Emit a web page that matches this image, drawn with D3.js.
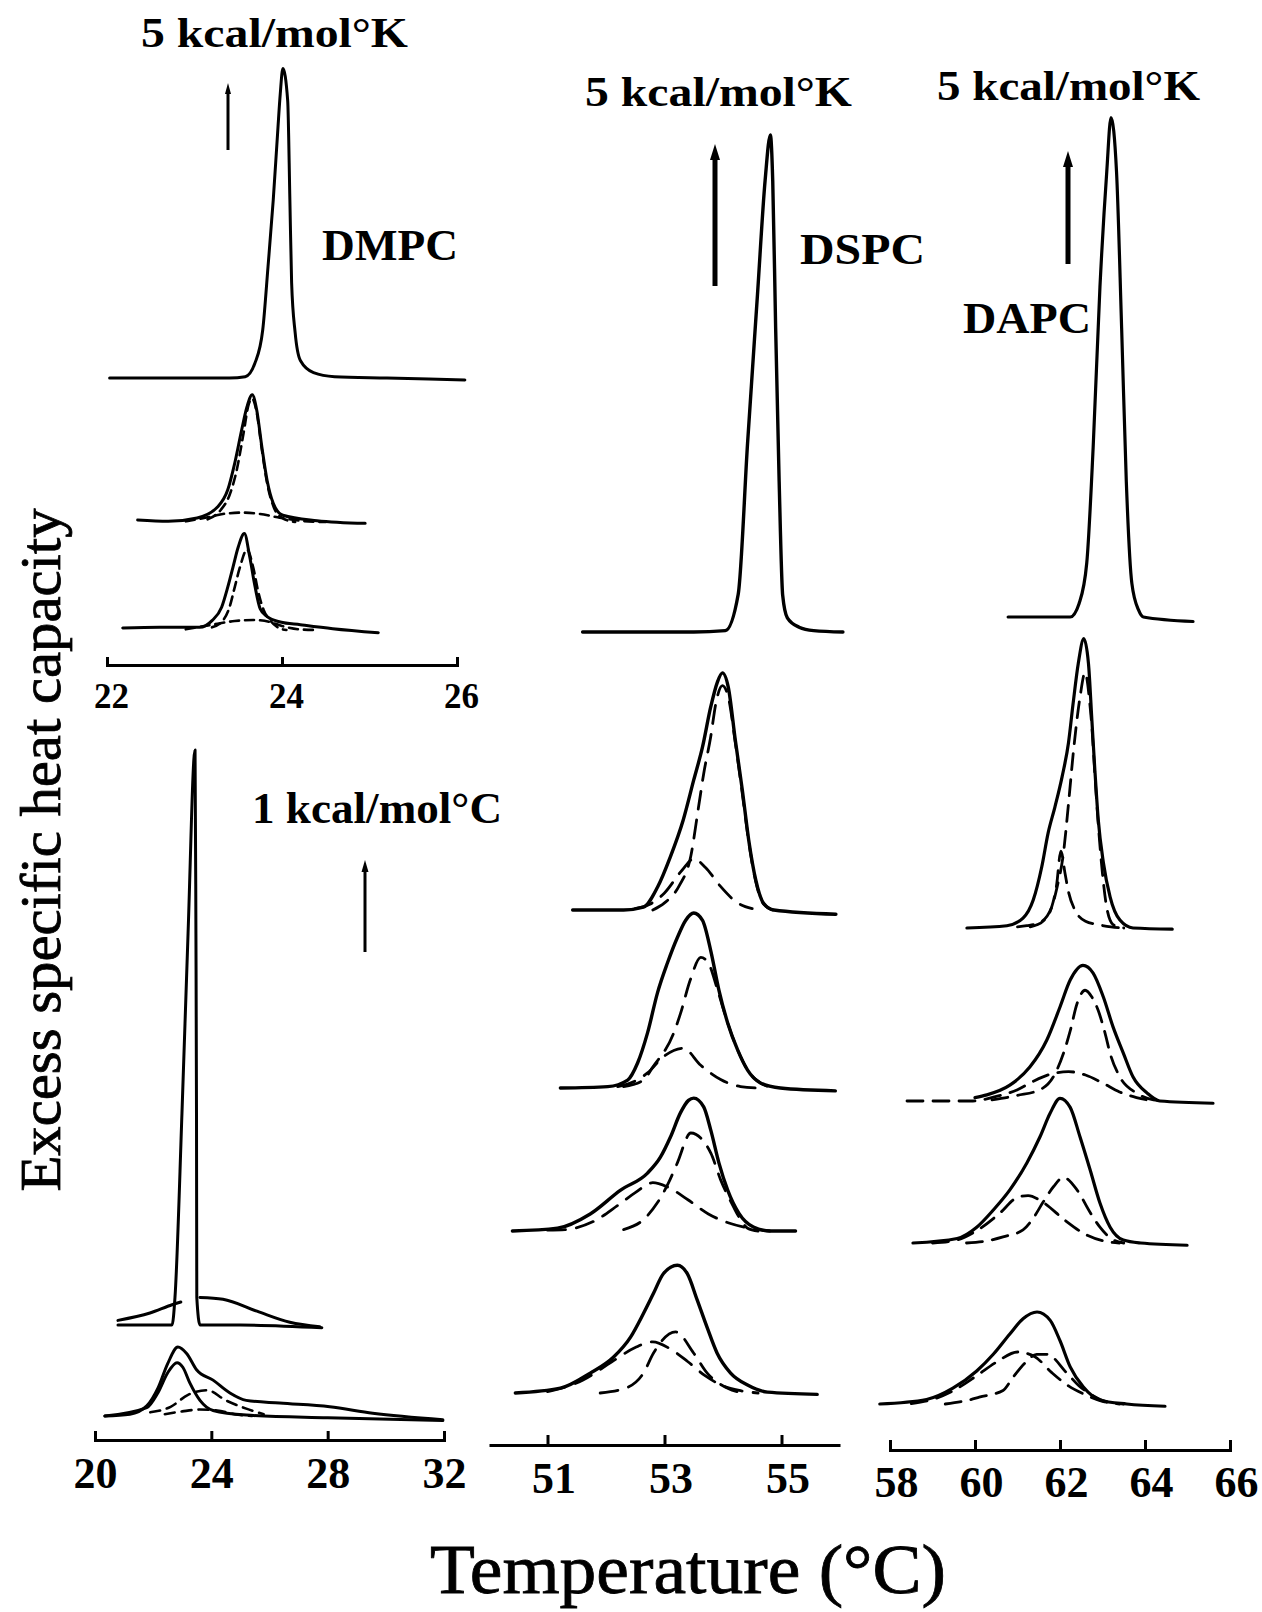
<!DOCTYPE html>
<html>
<head>
<meta charset="utf-8">
<script src="https://cdn.jsdelivr.net/npm/d3@7"></script>
<style>
  html, body { margin: 0; padding: 0; background: #fff; }
  svg { display: block; }
  text { font-family: "Liberation Serif", "Times New Roman", Times, serif; fill: #000; }
</style>
</head>
<body>
<svg id="chart" width="1262" height="1612"></svg>
<script>
// ---- tick labels ----
const dmpcTicks = [22, 24, 26];
const wideTicks = [20, 24, 28, 32];
const dspcTicks = [51, 53, 55];
const dapcTicks = [58, 60, 62, 64, 66];

// ---- scale bars (value of each arrow) ----
const scaleBarValues = { dmpc: 5, wide: 1, dspc: 5, dapc: 5 };

// ---- DMPC, 22-26 °C, [T, Cp kcal/mol°K] ----
const dmpcPure = [[22.03,0],[23.4,0],[23.58,0.1],[23.69,1.1],[23.78,3.6],[23.84,8.3],[23.9,13.3],[23.95,18.3],[23.98,21.2],[24.01,23.1],[24.065,20.7],[24.09,13.3],[24.11,7.1],[24.15,3.4],[24.21,1.3],[24.36,0.4],[24.6,0.1],[25.2,0],[26.09,-0.15]];
const dmpcMid = [[22.35,0.15],[22.7,0.05],[23.03,0.3],[23.26,1.1],[23.38,2.4],[23.46,4.4],[23.54,6.9],[23.6,8.6],[23.66,9.5],[23.71,8.4],[23.77,5.6],[23.83,3.1],[23.9,1.4],[24.01,0.5],[24.4,0.1],[24.95,-0.1]];
const dmpcMidFitA = [[23.15,0.2],[23.3,0.9],[23.4,2.0],[23.48,3.8],[23.56,6.6],[23.62,8.8],[23.66,9.2],[23.71,8.2],[23.77,5.4],[23.83,2.9],[23.9,1.2],[24.0,0.3],[24.15,0]];
const dmpcMidFitB = [[22.9,0.05],[23.15,0.35],[23.35,0.62],[23.55,0.7],[23.75,0.6],[23.95,0.35],[24.2,0.1],[24.5,0]];
const dmpcLow = [[22.18,0.15],[22.6,0.2],[23.06,0.2],[23.2,0.7],[23.31,1.7],[23.38,3.2],[23.44,4.7],[23.5,6.2],[23.57,7.2],[23.63,5.5],[23.69,3.3],[23.75,1.6],[23.83,1.0],[23.98,0.6],[24.21,0.4],[24.58,0.1],[25.1,-0.2]];
const dmpcLowFitA = [[23.2,0.2],[23.33,0.75],[23.4,1.7],[23.46,3.2],[23.52,4.7],[23.6,6.0],[23.67,4.7],[23.73,2.8],[23.79,1.5],[23.86,0.75],[23.95,0.2],[24.05,0]];
const dmpcLowFitB = [[22.9,0.05],[23.18,0.37],[23.46,0.67],[23.67,0.75],[23.86,0.6],[24.0,0.3],[24.2,0.05],[24.4,0]];

// ---- wide range 20-32 °C, [T, Cp kcal/mol°C] ----
const wideSharp = [[20.79,0],[22.2,0],[22.65,0],[22.75,0.3],[22.99,2.3],[23.2,4.26],[23.44,6.25],[23.47,4.26],[23.49,2.3],[23.5,0.3],[23.61,0],[25.0,0],[27.8,-0.03]];
const wideBroad = [[20.79,0.05],[21.89,0.13],[22.65,0.22],[22.95,0.25],null,[23.61,0.3],[24.4,0.28],[25.57,0.15],[26.7,0.03],[27.73,-0.02]];
const wideLowOuter = [[20.34,0],[21.2,0.02],[21.78,0.11],[22.16,0.3],[22.5,0.57],[22.85,0.75],[23.15,0.68],[23.5,0.5],[24.06,0.39],[24.64,0.25],[25.2,0.17],[26.35,0.14],[28.07,0.1],[29.55,0.03],[31.96,-0.04]];
const wideLowInner = [[20.34,0],[21.78,0.09],[22.16,0.25],[22.5,0.47],[22.82,0.58],[23.02,0.53],[23.26,0.36],[23.61,0.17],[24.06,0.06],[25.2,0.01],[28.0,-0.02],[31.96,-0.05]];
const wideLowFitA = [[21.9,0.04],[22.6,0.1],[23.2,0.23],[23.85,0.28],[24.5,0.17],[25.2,0.08],[25.8,0.02]];
const wideLowFitB = [[22.4,0.02],[23.0,0.05],[23.6,0.07],[24.2,0.06],[24.8,0.02],[25.4,0]];

// ---- DSPC, 50-56 °C, [T, Cp kcal/mol°K] ----
const dspcPure = [[51.6,0],[53.5,0],[54.04,0.05],[54.26,1.33],[54.42,6.65],[54.59,11.9],[54.72,15.9],[54.81,17.5],[54.85,15.9],[54.9,10.7],[54.96,5.3],[55.02,1.3],[55.1,0.5],[55.3,0.17],[55.55,0.05],[56.05,0]];
const dspcA = [[51.43,0],[52.3,0],[52.64,0.1],[52.88,0.8],[53.1,1.87],[53.32,3.17],[53.5,4.58],[53.65,5.74],[53.79,7.15],[53.9,8.0],[53.99,8.35],[54.09,7.85],[54.21,5.99],[54.33,4.23],[54.44,2.46],[54.56,1.06],[54.69,0.25],[54.87,0],[55.93,-0.15]];
const dspcAFitA = [[52.8,0],[53.0,0.25],[53.25,0.85],[53.45,1.9],[53.58,3.6],[53.67,4.8],[53.79,6.1],[53.88,7.3],[53.99,7.9],[54.09,7.5],[54.21,5.9],[54.33,4.1],[54.44,2.4],[54.56,1.0],[54.68,0.25],[54.85,0]];
const dspcAFitB = [[52.5,0.05],[52.75,0.2],[53.0,0.6],[53.3,1.4],[53.5,1.8],[53.7,1.5],[53.95,0.85],[54.25,0.25],[54.5,0.05]];
const dspcB = [[51.22,0],[52.03,0.05],[52.37,0.28],[52.54,0.88],[52.71,1.94],[52.88,3.35],[53.05,4.4],[53.22,5.3],[53.36,5.9],[53.5,6.16],[53.65,5.9],[53.79,4.84],[53.93,3.45],[54.08,2.29],[54.25,1.34],[54.42,0.63],[54.64,0.18],[54.98,0],[55.92,-0.1]];
const dspcBFitA = [[52.3,0.05],[52.64,0.28],[52.8,0.74],[53.15,1.9],[53.27,2.6],[53.44,3.8],[53.62,4.6],[53.75,4.4],[53.9,3.5],[54.08,2.29],[54.25,1.34],[54.42,0.63],[54.64,0.18],[54.9,0]];
const dspcBFitB = [[52.2,0.05],[52.5,0.25],[52.71,0.53],[52.98,1.1],[53.32,1.4],[53.62,0.8],[53.96,0.3],[54.3,0.05],[54.6,0]];
const dspcC = [[50.4,0],[51.17,0.1],[51.73,0.6],[52.25,1.44],[52.71,2.04],[52.93,2.6],[53.1,3.3],[53.27,4.15],[53.41,4.6],[53.5,4.68],[53.67,4.37],[53.79,3.56],[53.93,2.4],[54.08,1.44],[54.27,0.63],[54.52,0.14],[54.81,0],[55.24,0]];
const dspcCFitA = [[52.3,0.05],[52.64,0.4],[52.88,1.0],[53.07,1.7],[53.22,2.4],[53.45,3.45],[53.79,2.75],[53.96,1.8],[54.18,0.85],[54.3,0.4],[54.42,0.1],[54.6,0]];
const dspcCFitB = [[51.0,0.03],[51.3,0.05],[51.8,0.35],[52.2,0.9],[52.5,1.35],[52.8,1.7],[53.05,1.55],[53.4,1.1],[53.75,0.6],[54.1,0.28],[54.45,0.1],[54.8,0]];
const dspcD = [[50.45,0],[51.22,0.17],[51.73,0.7],[52.13,1.27],[52.42,1.97],[52.64,2.8],[52.81,3.5],[52.98,4.2],[53.22,4.5],[53.39,4.2],[53.56,3.27],[53.73,2.3],[53.9,1.4],[54.13,0.7],[54.42,0.28],[54.76,0.03],[55.61,-0.05]];
const dspcDFitA = [[51.9,0],[52.37,0.2],[52.64,0.7],[52.81,1.4],[53.19,2.15],[53.5,1.4],[53.73,0.7],[54.08,0.17],[54.35,0]];
const dspcDFitB = [[51.0,0.05],[51.6,0.45],[52.1,1.1],[52.5,1.6],[52.8,1.8],[53.1,1.55],[53.4,1.1],[53.7,0.6],[54.0,0.25],[54.3,0.08],[54.6,0]];

// ---- DAPC, 58-66 °C, [T, Cp kcal/mol°K] ----
const dapcPure = [[60.78,0],[61.8,0],[62.24,0],[62.45,0.6],[62.63,2.4],[62.78,7.5],[62.94,14.6],[63.1,19.7],[63.2,22.1],[63.33,19.7],[63.45,12.8],[63.56,6.0],[63.69,1.5],[63.85,0.3],[63.96,0],[65.13,-0.2]];
const dapcA = [[59.81,0],[60.75,0.1],[61.13,0.44],[61.37,1.24],[61.57,2.7],[61.72,4.2],[61.88,5.35],[62.05,6.7],[62.2,8.2],[62.31,9.96],[62.43,11.7],[62.56,12.8],[62.67,11.7],[62.75,9.2],[62.82,7.0],[62.9,4.8],[63.02,2.9],[63.18,1.37],[63.41,0.35],[63.72,0],[64.64,-0.05]];
const dapcAFitA = [[61.0,0.05],[61.22,0.1],[61.53,0.25],[61.8,0.9],[61.93,1.8],[62.08,3.3],[62.2,5.5],[62.31,7.7],[62.47,10.2],[62.59,11.3],[62.7,9.96],[62.75,8.9],[62.82,6.8],[62.9,4.6],[63.0,2.4],[63.1,0.9],[63.25,0.15],[63.5,0]];
const dapcAFitB = [[61.3,0.05],[61.6,0.3],[61.8,0.9],[61.92,1.9],[62.02,3.4],[62.12,2.4],[62.2,1.6],[62.35,0.8],[62.6,0.3],[62.9,0.15],[63.2,0.05],[63.5,0]];
const dapcB = [[60.0,0.15],[60.28,0.27],[60.82,0.7],[61.29,1.5],[61.69,2.7],[62.0,4.16],[62.24,5.35],[62.54,6.0],[62.78,5.66],[63.02,4.6],[63.25,3.27],[63.49,2.12],[63.72,1.06],[64.05,0.35],[64.35,0],[65.6,-0.1]];
const dapcBFitA = [[60.4,0.05],[61.0,0.25],[61.53,0.5],[61.84,1.06],[62.08,2.1],[62.24,3.1],[62.4,4.3],[62.59,4.9],[62.75,4.6],[62.9,4.0],[63.06,3.0],[63.18,2.1],[63.41,1.06],[63.8,0.35],[64.2,0.05],[64.5,0]];
const dapcBFitB = [[58.4,0],[59.9,0],[60.5,0.2],[61.0,0.5],[61.4,0.9],[61.8,1.2],[62.2,1.3],[62.6,1.15],[63.0,0.8],[63.4,0.4],[63.8,0.15],[64.2,0]];
const dapcC = [[58.54,0],[59.58,0.2],[60.04,0.7],[60.43,1.46],[60.82,2.35],[61.22,3.54],[61.53,4.7],[61.77,5.75],[62.0,6.4],[62.24,6.0],[62.47,4.7],[62.71,3.23],[62.94,1.77],[63.18,0.7],[63.49,0.13],[63.9,0],[64.99,-0.1]];
const dapcCFitA = [[59.8,0],[60.3,0.1],[60.66,0.27],[61.13,0.58],[61.37,1.1],[61.6,1.8],[61.85,2.5],[62.08,2.9],[62.4,2.35],[62.71,1.35],[62.94,0.7],[63.2,0.2],[63.5,0]];
const dapcCFitB = [[59.0,0],[59.6,0.15],[60.0,0.5],[60.59,1.33],[60.98,2.0],[61.25,2.1],[61.6,1.8],[62.12,1.0],[62.63,0.35],[63.0,0.1],[63.4,0]];
const dapcD = [[57.76,0],[58.86,0.2],[59.48,0.7],[60.04,1.46],[60.43,2.2],[60.82,3.1],[61.13,3.77],[61.46,4.07],[61.77,3.7],[62.0,2.8],[62.24,1.64],[62.55,0.75],[62.94,0.18],[63.57,0],[64.47,-0.1]];
const dapcDFitA = [[58.5,0.02],[59.0,0.2],[59.5,0.6],[60.0,1.2],[60.5,1.85],[61.0,2.3],[61.4,2.1],[61.8,1.4],[62.2,0.8],[62.55,0.45],[63.0,0.12],[63.4,0]];
const dapcDFitB = [[59.3,0],[59.8,0.15],[60.1,0.3],[60.66,0.6],[60.9,1.2],[61.2,1.86],[61.45,2.2],[61.69,2.2],[62.16,1.37],[62.45,0.8],[62.75,0.4],[63.1,0.1],[63.5,0]];

// ---- layout ----
const panels = [
  {
    key: "dmpc", domain: [22, 26], range: [107, 457], axisY: 665, ticks: dmpcTicks,
    outerTicks: true, tickLen: 8, labelSize: 35, labelBase: 708, labelDx: 4,
    pxPerUnit: 13.4, dash: "9,6", solidW: 3, dashW: 2.6,
    arrow: { x: 228, base: 150, width: 3, head: [6, 11] },
    unitLabel: { text: "5 kcal/mol\u00B0K", x: 141, y: 47, size: 43, len: 267 },
    name: { text: "DMPC", x: 322, y: 260, size: 45, len: 136 },
    traces: [
      { base: 378, solid: [dmpcPure], dashed: [] },
      { base: 522, solid: [dmpcMid], dashed: [dmpcMidFitA, dmpcMidFitB] },
      { base: 630, solid: [dmpcLow], dashed: [dmpcLowFitA, dmpcLowFitB] }
    ]
  },
  {
    key: "wide", domain: [20, 32], range: [95, 444], axisY: 1440, ticks: wideTicks,
    outerTicks: true, tickLen: 9, labelSize: 44, labelBase: 1488, labelDx: 0,
    pxPerUnit: 92, dash: "10,7", solidW: 3, dashW: 2.6,
    arrow: { x: 365, base: 952, width: 3, head: [7, 12] },
    unitLabel: { text: "1 kcal/mol\u00B0C", x: 252, y: 823, size: 44, len: 250 },
    name: null,
    traces: [
      { base: 1325, solid: [wideSharp, wideBroad], dashed: [] },
      { base: 1416, solid: [wideLowOuter, wideLowInner], dashed: [wideLowFitA, wideLowFitB] }
    ]
  },
  {
    key: "dspc", domain: [50, 56], range: [489, 840], axisY: 1445, ticks: dspcTicks,
    outerTicks: false, tickLen: 10, labelSize: 44, labelBase: 1493, labelDx: 6,
    pxPerUnit: 28.4, dash: "18,11", solidW: 3.4, dashW: 2.8,
    arrow: { x: 715, base: 286, width: 5, head: [10, 16] },
    unitLabel: { text: "5 kcal/mol\u00B0K", x: 585, y: 106, size: 43, len: 267 },
    name: { text: "DSPC", x: 800, y: 264, size: 45, len: 125 },
    traces: [
      { base: 632, solid: [dspcPure], dashed: [] },
      { base: 910, solid: [dspcA], dashed: [dspcAFitA, dspcAFitB] },
      { base: 1088, solid: [dspcB], dashed: [dspcBFitA, dspcBFitB] },
      { base: 1231, solid: [dspcC], dashed: [dspcCFitA, dspcCFitB] },
      { base: 1393, solid: [dspcD], dashed: [dspcDFitA, dspcDFitB] }
    ]
  },
  {
    key: "dapc", domain: [58, 66], range: [890, 1230], axisY: 1450, ticks: dapcTicks,
    outerTicks: true, tickLen: 10, labelSize: 44, labelBase: 1497, labelDx: 6,
    pxPerUnit: 22.6, dash: "16,10", solidW: 3.2, dashW: 2.8,
    arrow: { x: 1068, base: 264, width: 5, head: [10, 16] },
    unitLabel: { text: "5 kcal/mol\u00B0K", x: 937, y: 100, size: 43, len: 263 },
    name: { text: "DAPC", x: 963, y: 333, size: 45, len: 128 },
    traces: [
      { base: 617, solid: [dapcPure], dashed: [] },
      { base: 928, solid: [dapcA], dashed: [dapcAFitA, dapcAFitB] },
      { base: 1101, solid: [dapcB], dashed: [dapcBFitA, dapcBFitB] },
      { base: 1243, solid: [dapcC], dashed: [dapcCFitA, dapcCFitB] },
      { base: 1404, solid: [dapcD], dashed: [dapcDFitA, dapcDFitB] }
    ]
  }
];

const svg = d3.select("#chart");
svg.append("rect").attr("width", 1262).attr("height", 1612).attr("fill", "#fff");

panels.forEach(p => {
  const g = svg.append("g").attr("class", "panel-" + p.key);
  const x = d3.scaleLinear().domain(p.domain).range(p.range);

  // stacked thermograms, each on its own baseline
  p.traces.forEach(tr => {
    const y = d3.scaleLinear().domain([0, 1]).range([tr.base, tr.base - p.pxPerUnit]);
    const line = d3.line()
      .defined(d => d !== null)
      .x(d => x(d[0]))
      .y(d => y(d[1]))
      .curve(d3.curveMonotoneX);

    tr.dashed.forEach(data => {
      g.append("path")
        .attr("d", line(data))
        .attr("fill", "none")
        .attr("stroke", "#000")
        .attr("stroke-width", p.dashW)
        .attr("stroke-dasharray", p.dash)
        .attr("stroke-linecap", "round");
    });
    tr.solid.forEach(data => {
      g.append("path")
        .attr("d", line(data))
        .attr("fill", "none")
        .attr("stroke", "#000")
        .attr("stroke-width", p.solidW)
        .attr("stroke-linejoin", "round")
        .attr("stroke-linecap", "round");
    });
  });

  // temperature axis with upward ticks
  const axis = d3.axisBottom(x)
    .tickValues(p.ticks)
    .tickFormat(d3.format("d"))
    .tickSize(-p.tickLen)
    .tickSizeOuter(p.outerTicks ? -p.tickLen : 0);
  const ag = g.append("g")
    .attr("transform", `translate(0,${p.axisY})`)
    .call(axis);
  ag.select("path.domain").attr("stroke", "#000").attr("stroke-width", 3).attr("fill", "none");
  ag.selectAll(".tick line").attr("stroke", "#000").attr("stroke-width", 3);
  ag.selectAll(".tick text")
    .attr("x", p.labelDx)
    .attr("y", p.labelBase - p.axisY)
    .attr("dy", 0)
    .attr("font-size", p.labelSize)
    .attr("font-weight", "bold")
    .attr("fill", "#000");

  // scale bar arrow
  const ya = d3.scaleLinear().domain([0, 1]).range([p.arrow.base, p.arrow.base - p.pxPerUnit]);
  const tipY = ya(scaleBarValues[p.key]);
  const [hw, hl] = p.arrow.head;
  g.append("line")
    .attr("x1", p.arrow.x).attr("x2", p.arrow.x)
    .attr("y1", ya(0)).attr("y2", tipY + hl - 2)
    .attr("stroke", "#000").attr("stroke-width", p.arrow.width);
  g.append("path")
    .attr("d", `M${p.arrow.x},${tipY} L${p.arrow.x - hw / 2},${tipY + hl} L${p.arrow.x + hw / 2},${tipY + hl} Z`)
    .attr("fill", "#000");

  // unit label over the arrow
  g.append("text")
    .attr("x", p.unitLabel.x).attr("y", p.unitLabel.y)
    .attr("font-size", p.unitLabel.size)
    .attr("font-weight", "bold")
    .attr("textLength", p.unitLabel.len)
    .attr("lengthAdjust", "spacingAndGlyphs")
    .text(p.unitLabel.text);

  if (p.name) {
    g.append("text")
      .attr("x", p.name.x).attr("y", p.name.y)
      .attr("font-size", p.name.size)
      .attr("font-weight", "bold")
      .attr("textLength", p.name.len)
      .attr("lengthAdjust", "spacingAndGlyphs")
      .text(p.name.text);
  }
});

// axis titles
svg.append("text")
  .attr("transform", "translate(60,850) rotate(-90)")
  .attr("text-anchor", "middle")
  .attr("font-size", 57)
  .attr("stroke", "#000")
  .attr("stroke-width", 0.8)
  .attr("textLength", 683)
  .attr("lengthAdjust", "spacingAndGlyphs")
  .text("Excess specific heat capacity");

svg.append("text")
  .attr("x", 430).attr("y", 1593)
  .attr("font-size", 70)
  .attr("stroke", "#000")
  .attr("stroke-width", 0.8)
  .attr("textLength", 516)
  .attr("lengthAdjust", "spacingAndGlyphs")
  .text("Temperature (\u00B0C)");
</script>
</body>
</html>
